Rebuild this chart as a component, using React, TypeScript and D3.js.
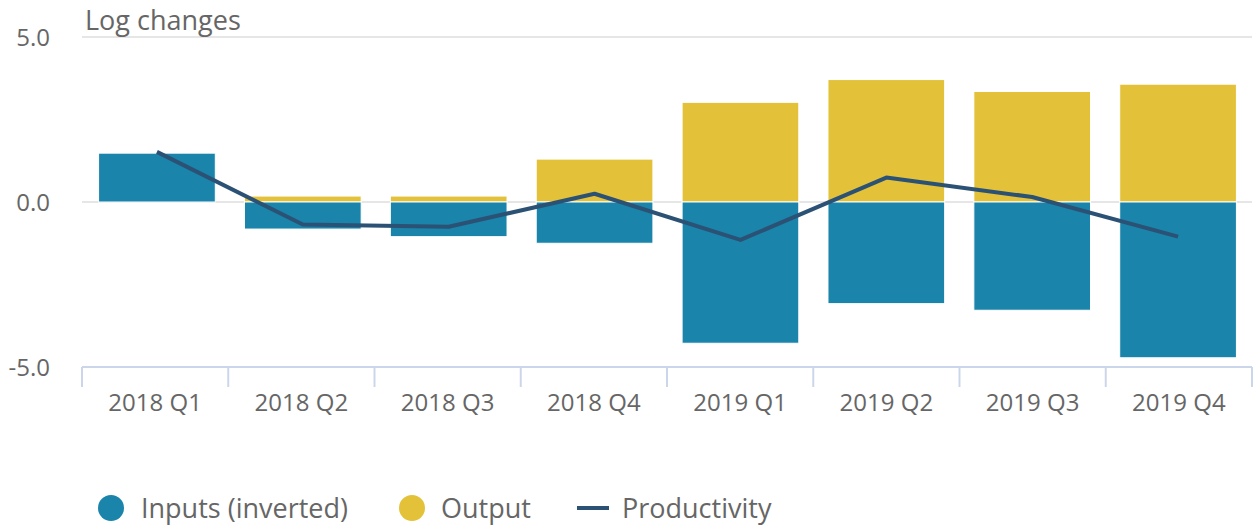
import React from "react";
import * as d3 from "d3";

const categories = ["2018 Q1", "2018 Q2", "2018 Q3", "2018 Q4", "2019 Q1", "2019 Q2", "2019 Q3", "2019 Q4"];
const inputs = [1.48, -0.82, -1.05, -1.25, -4.28, -3.08, -3.28, -4.72];
const output = [0, 0.18, 0.18, 1.3, 3.02, 3.71, 3.35, 3.57];
const productivity = [1.52, -0.68, -0.75, 0.25, -1.15, 0.74, 0.15, -1.05];
const yTicks = [-5, 0, 5];

const W = 1253, H = 526;
const left = 82, right = 1252, top = 37, bottom = 367;
const FONT = "'Open Sans', sans-serif";

export default function App() {
  const xb = d3.scaleBand<string>().domain(categories).range([left, right]);
  const xm = d3.scaleBand<string>().domain(categories).range([84, 1251]);
  const y = d3.scaleLinear().domain([-5, 5]).range([bottom, top]);
  const pad = xm.bandwidth() * 0.1;
  const bw = xm.bandwidth() * 0.8;
  const line = d3.line<number>().x((_, i) => (xm(categories[i]) as number) + xm.bandwidth() / 2).y((d) => y(d));
  const cInputs = "#1a84ab", cOutput = "#e3c23a", cLine = "#2b5275";
  return (
    <svg width={W} height={H} style={{ position: "absolute", left: 0, top: 0, fontFamily: FONT }}>
      <rect width={W} height={H} fill="#fff" />
      {yTicks.filter((t) => t !== -5).map((t) => (
        <line key={t} x1={left} x2={right} y1={y(t)} y2={y(t)} stroke="#e6e6e6" strokeWidth={2} />
      ))}
      {yTicks.map((t) => (
        <text key={t} x={50} y={y(t) + 9} textAnchor="end" fontSize={24} fill="#666">{t.toFixed(1)}</text>
      ))}
      <text x={85} y={30} fontSize={27} fill="#666">Log changes</text>
      {categories.map((c, i) => {
        const bx = (xm(c) as number) + pad;
        const v = inputs[i];
        const o = output[i];
        return (
          <g key={c}>
            {o !== 0 && (
              <rect x={bx} width={bw} y={y(Math.max(o, 0))} height={Math.abs(y(o) - y(0))} fill={cOutput} stroke="#fff" strokeWidth={1} />
            )}
            <rect x={bx} width={bw} y={y(Math.max(v, 0))} height={Math.abs(y(v) - y(0))} fill={cInputs} stroke="#fff" strokeWidth={1} />
          </g>
        );
      })}
      <path d={line(productivity) as string} fill="none" stroke={cLine} strokeWidth={4} strokeLinejoin="round" />
      <line x1={left} x2={right} y1={bottom} y2={bottom} stroke="#ccd6eb" strokeWidth={2} />
      {categories.map((c, i) => (
        <line key={"t" + i} x1={(xb(c) as number)} x2={(xb(c) as number)} y1={bottom} y2={bottom + 20} stroke="#ccd6eb" strokeWidth={2} />
      ))}
      <line x1={right} x2={right} y1={bottom} y2={bottom + 20} stroke="#ccd6eb" strokeWidth={2} />
      {categories.map((c) => (
        <text key={"l" + c} x={(xb(c) as number) + xb.bandwidth() / 2} y={411} textAnchor="middle" fontSize={24} fill="#666">{c}</text>
      ))}
      <g fontSize={27} fill="#666">
        <circle cx={111} cy={508} r={13} fill={cInputs} />
        <text x={141} y={518}>Inputs (inverted)</text>
        <circle cx={412} cy={508} r={13} fill={cOutput} />
        <text x={441} y={518}>Output</text>
        <line x1={577} x2={609} y1={508} y2={508} stroke={cLine} strokeWidth={4} />
        <text x={622} y={518}>Productivity</text>
      </g>
    </svg>
  );
}
